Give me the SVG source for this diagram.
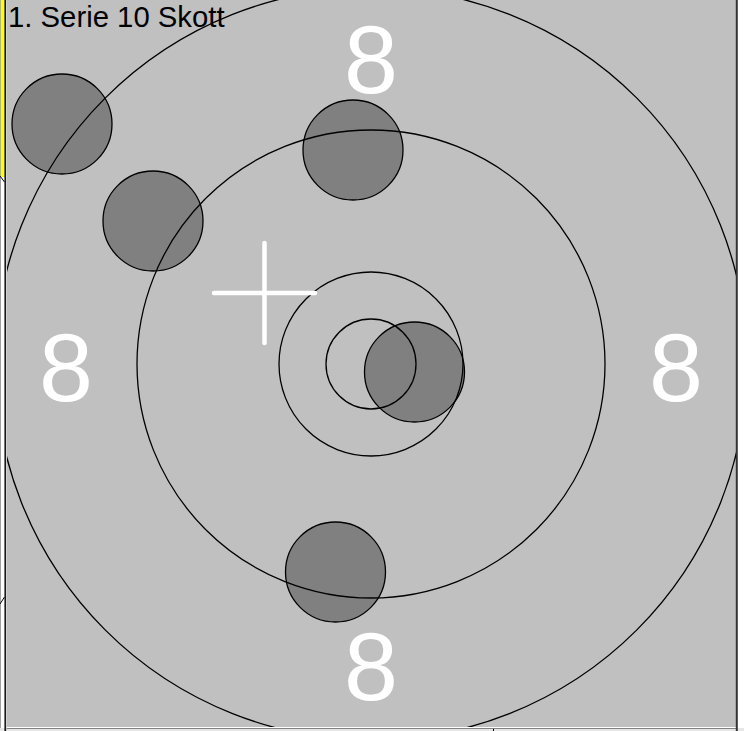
<svg xmlns="http://www.w3.org/2000/svg" width="744" height="731" viewBox="0 0 744 731">
<defs>
<clipPath id="panel"><rect x="7" y="0" width="729" height="727"/></clipPath>
</defs>
<style>
.ring{fill:none;stroke:#000;stroke-width:1.3}
.shot{fill:#808080;stroke:#000;stroke-width:1.3}
.num{font-family:"Liberation Sans",Arial,sans-serif;font-size:97px;fill:#fff;text-anchor:middle}
.title{font-family:"Liberation Sans",Arial,sans-serif;font-size:29.3px;fill:#000}
.cross{stroke:#fff;stroke-width:4.5;stroke-linecap:round}
</style>
<rect x="0" y="0" width="744" height="731" fill="#fff"/>
<g id="frame">
<rect x="0" y="0" width="1" height="731" fill="#a0a0a0"/>
<rect x="0.8" y="0" width="3.8" height="177" fill="#ffff00"/>
<line x1="0" y1="176" x2="4.5" y2="182" stroke="#000" stroke-width="1"/>
<line x1="0" y1="604" x2="4.5" y2="597" stroke="#000" stroke-width="1"/>
<rect x="7" y="0" width="729" height="727" fill="#c0c0c0"/>
<rect x="0" y="728" width="744" height="3" fill="#e6e6e6"/>
<line x1="7" y1="728.5" x2="736" y2="728.5" stroke="#808080" stroke-width="1"/>
<line x1="493.5" y1="729" x2="493.5" y2="731" stroke="#000" stroke-width="1"/>
<line x1="5.3" y1="0" x2="5.3" y2="731" stroke="#1a1a1a" stroke-width="1.8"/>
<line x1="736.8" y1="0" x2="736.8" y2="731" stroke="#333" stroke-width="2"/>
</g>
<g clip-path="url(#panel)">
<g id="shots">
<circle class="shot" cx="62" cy="124" r="50"/>
<circle class="shot" cx="153" cy="221" r="50"/>
<circle class="shot" cx="353" cy="150" r="50"/>
<circle class="shot" cx="414.5" cy="372" r="50"/>
<circle class="shot" cx="335.5" cy="572" r="50"/>
</g>
<g id="rings">
<circle class="ring" cx="371" cy="364" r="45"/>
<circle class="ring" cx="371" cy="364" r="92"/>
<circle class="ring" cx="371" cy="364" r="234"/>
<circle class="ring" cx="371" cy="364" r="376"/>
</g>
</g>
<g id="numbers">
<text class="num" x="371" y="93">8</text>
<text class="num" x="66" y="401">8</text>
<text class="num" x="676" y="401">8</text>
<text class="num" x="371" y="700">8</text>
</g>
<g id="crosshair">
<line class="cross" x1="214" y1="293" x2="315" y2="293"/>
<line class="cross" x1="264.5" y1="243" x2="264.5" y2="343"/>
</g>
<text class="title" x="8" y="27">1. Serie 10 Skott</text>
</svg>
